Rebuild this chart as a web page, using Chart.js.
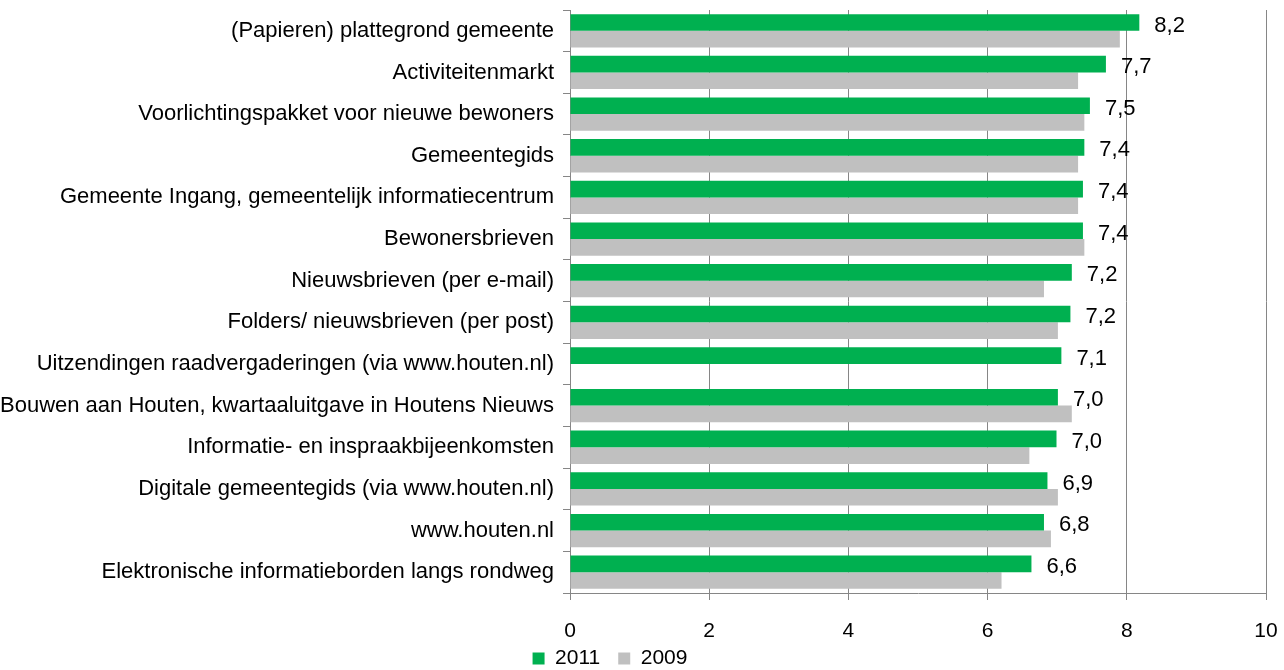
<!DOCTYPE html>
<html>
<head>
<meta charset="utf-8">
<script src="https://cdn.jsdelivr.net/npm/chart.js@4/dist/chart.umd.min.js"></script>
<style>
  html, body { margin: 0; padding: 0; background: #ffffff; }
  #wrap { width: 1284px; height: 670px; position: relative; }
</style>
</head>
<body>
<div id="wrap"><canvas id="c"></canvas></div>
<script>
const categories = [
  "(Papieren) plattegrond gemeente",
  "Activiteitenmarkt",
  "Voorlichtingspakket voor nieuwe bewoners",
  "Gemeentegids",
  "Gemeente Ingang, gemeentelijk informatiecentrum",
  "Bewonersbrieven",
  "Nieuwsbrieven (per e-mail)",
  "Folders/ nieuwsbrieven (per post)",
  "Uitzendingen raadvergaderingen (via www.houten.nl)",
  "Bouwen aan Houten, kwartaaluitgave in Houtens Nieuws",
  "Informatie- en inspraakbijeenkomsten",
  "Digitale gemeentegids (via www.houten.nl)",
  "www.houten.nl",
  "Elektronische informatieborden langs rondweg"
];
const series2011 = [8.18, 7.70, 7.47, 7.39, 7.37, 7.37, 7.21, 7.19, 7.06, 7.01, 6.99, 6.86, 6.81, 6.63];
const series2009 = [7.90, 7.30, 7.39, 7.30, 7.30, 7.39, 6.81, 7.01, null, 7.21, 6.60, 7.01, 6.91, 6.20];
const xTicks = [0, 2, 4, 6, 8, 10];

const FONT = "'Liberation Sans', Arial, sans-serif";
const GRID = '#868686';

const valueLabels = {
  id: 'valueLabels',
  afterDatasetsDraw(chart) {
    const ctx = chart.ctx;
    const meta = chart.getDatasetMeta(0);
    ctx.save();
    ctx.fillStyle = '#000000';
    ctx.font = '22px ' + FONT;
    ctx.textAlign = 'left';
    ctx.textBaseline = 'middle';
    meta.data.forEach((bar, i) => {
      const v = chart.data.datasets[0].data[i];
      if (v == null) return;
      const txt = v.toFixed(1).replace('.', ',');
      ctx.fillText(txt, bar.x + 15, bar.y + 3);
    });
    ctx.restore();
  }
};

const legendFix = {
  id: 'legendFix',
  beforeUpdate(chart) {
    const lg = chart.legend;
    if (lg && !lg._wrapped) {
      const orig = lg.fit;
      lg.fit = function () { orig.call(this); this.height = 22; };
      lg._wrapped = true;
    }
  },
  afterLayout(chart) {
    const lg = chart.legend;
    if (!lg) return;
    lg.left -= 23;
    lg.right -= 23;
    lg.top = 630;
    lg.bottom = 670;
    lg.height = 40;
  }
};

new Chart(document.getElementById('c'), {
  type: 'bar',
  data: {
    labels: categories,
    datasets: [
      { label: '2011', data: series2011, backgroundColor: '#00B050', borderWidth: 0,
        categoryPercentage: 0.8, barPercentage: 1.0 },
      { label: '2009', data: series2009, backgroundColor: '#C0C0C0', borderWidth: 0,
        categoryPercentage: 0.8, barPercentage: 1.0 }
    ]
  },
  options: {
    indexAxis: 'y',
    responsive: true,
    maintainAspectRatio: false,
    animation: false,
    layout: { padding: { top: 10, right: 18, bottom: 0, left: 0 } },
    plugins: {
      legend: {
        display: true,
        position: 'bottom',
        labels: {
          boxWidth: 12, boxHeight: 12, padding: 18,
          color: '#000000',
          font: { family: FONT, size: 21 }
        }
      },
      tooltip: { enabled: false },
      title: { display: false }
    },
    scales: {
      x: {
        min: 0, max: 10,
        afterBuildTicks(scale) { scale.ticks = xTicks.map(v => ({ value: v })); },
        afterFit(scale) {
          scale.height = 55;
          scale.paddingLeft = 0; scale.paddingRight = 0;
        },
        ticks: {
          color: '#000000', font: { family: FONT, size: 21 }, padding: 19,
          maxRotation: 0, autoSkip: false,
          callback: (v) => String(v)
        },
        grid: { color: GRID, lineWidth: 1, drawTicks: true, tickLength: 7, tickColor: GRID },
        border: { display: true, color: GRID, width: 1 }
      },
      y: {
        type: 'category',
        afterFit(scale) {
          scale.width = 570;
          scale.paddingTop = 0; scale.paddingBottom = 0;
        },
        ticks: { color: '#000000', font: { family: FONT, size: 22 }, padding: 9, autoSkip: false },
        grid: { display: true, drawOnChartArea: false, drawTicks: true, tickLength: 7, offset: true, color: GRID, tickColor: GRID },
        border: { display: true, color: GRID, width: 1 }
      }
    }
  },
  plugins: [valueLabels, legendFix]
});
</script>
</body>
</html>
